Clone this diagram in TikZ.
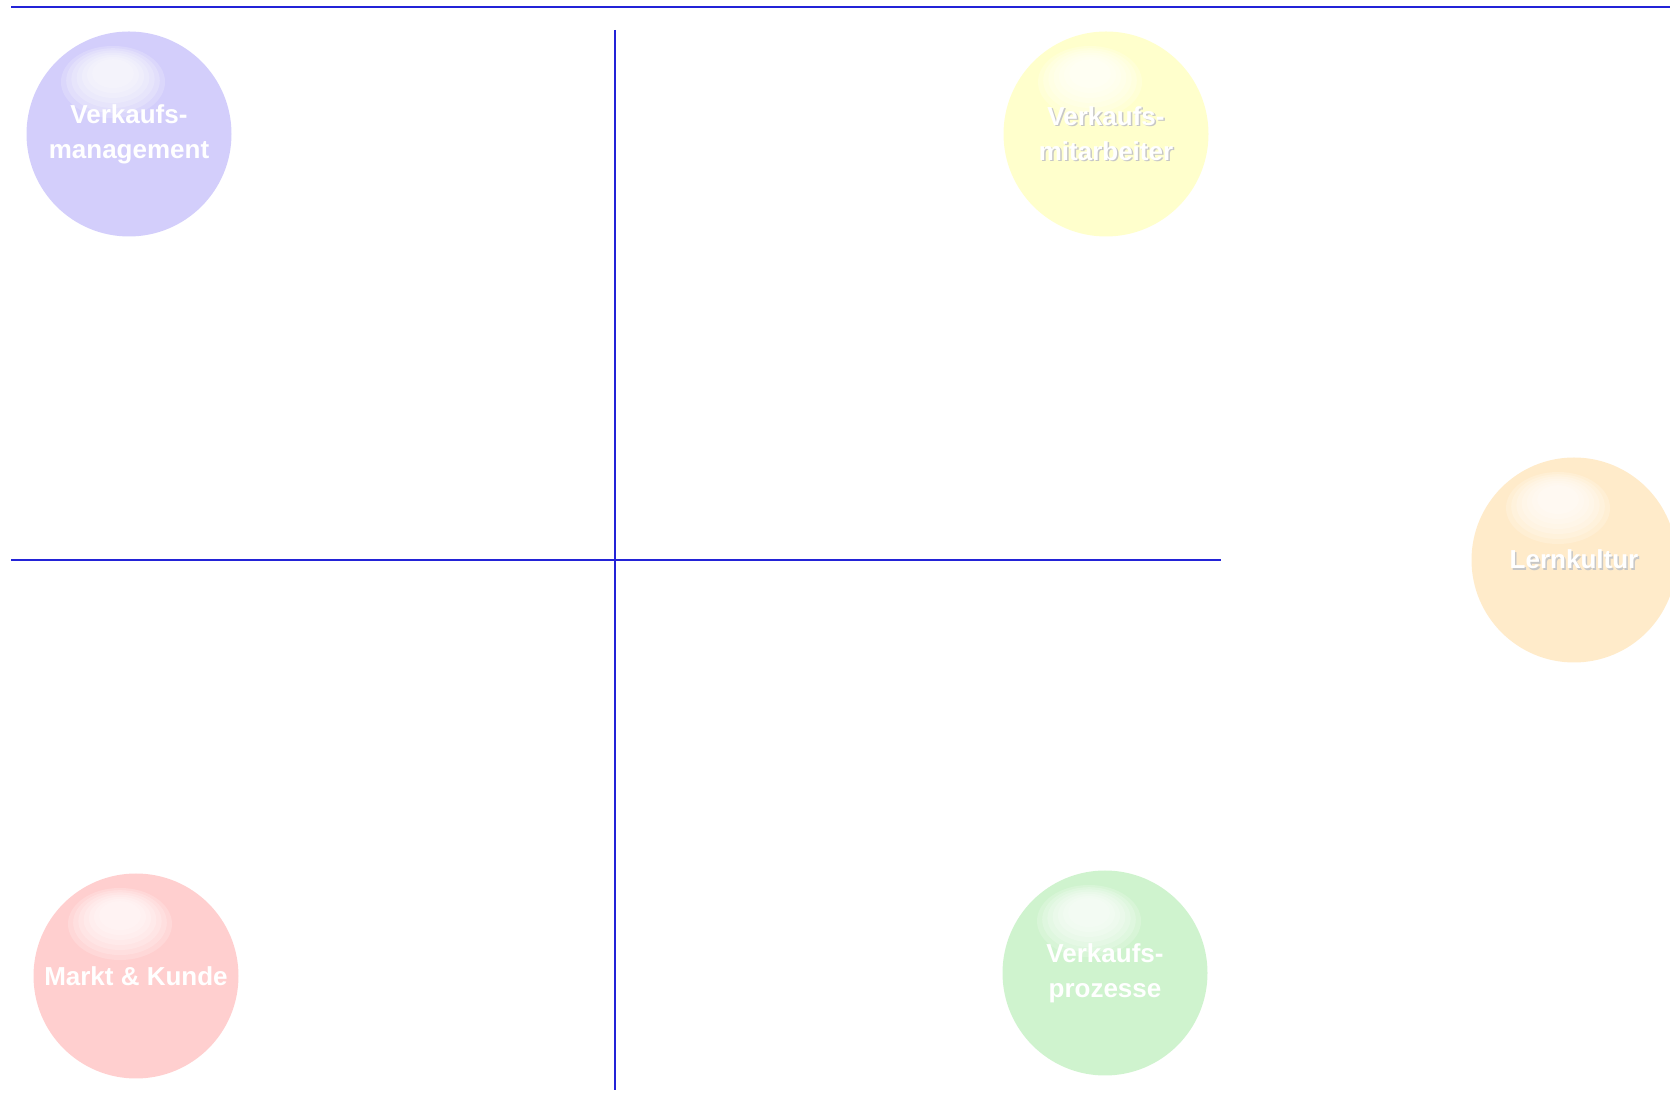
\documentclass[tikz,border=0pt]{standalone}
\usepackage{fontspec}
\setmainfont{Liberation Sans}
\usepackage{xcolor}
\usepackage{tikz}
\usetikzlibrary{positioning}

\definecolor{lineblue}{RGB}{35,35,215}
\definecolor{mgmtcol}{RGB}{211,206,251}
\definecolor{staffcol}{RGB}{255,255,204}
\definecolor{culturecol}{RGB}{255,235,202}
\definecolor{marketcol}{RGB}{255,207,207}
\definecolor{processcol}{RGB}{207,243,206}
\newcommand{\shd}[1]{\leavevmode\rlap{\kern1.5pt\raisebox{-1.5pt}{\color{black!22}#1}}#1}

\begin{document}
\begin{tikzpicture}[
			x=1pt, y=1pt,
			sphere/.style={circle, fill=#1, minimum size=205pt, inner sep=0pt, align=center, text=white,
				font=\fontsize{26}{35}\selectfont\bfseries,
				path picture={
					\foreach \s in {1.0,0.9,0.8,0.7,0.6,0.5,0.4}
						\fill[white, opacity=0.2] ([xshift=-16pt,yshift=52pt+(1-\s)*14pt]path picture bounding box.center) ellipse [x radius=\s*52pt, y radius=\s*36pt];}},
			axis/.style={draw=lineblue, line width=2pt}
			]
			\useasboundingbox (0,0) rectangle (1670,1100);
			% Linien
			\coordinate (topL) at (11,1093);
			\coordinate (topR) at (1670,1093);
			\coordinate (vTop) at (615,1070);
			\coordinate (vBot) at (615,10);
			\coordinate (hL) at (11,540);
			\coordinate (hR) at (1221,540);
			\draw[axis] (topL) -- (topR);
			\draw[axis] (vTop) -- (vBot);
			\draw[axis] (hL) -- (hR);
			
			% Kugeln
			\node[sphere=mgmtcol] (mgmt) at (129,966) {Verkaufs-\\management};
			\node[sphere=staffcol] (staff) at (1106,966) {\shd{Verkaufs-}\\\shd{mitarbeiter}};
			\node[sphere=culturecol] (culture) at (1574,540) {\shd{Lernkultur}};
			\node[sphere=marketcol] (market) at (136,124) {Markt \& Kunde};
			\node[sphere=processcol] (process) at (1105,127) {Verkaufs-\\prozesse};
		\end{tikzpicture}
\end{document}
